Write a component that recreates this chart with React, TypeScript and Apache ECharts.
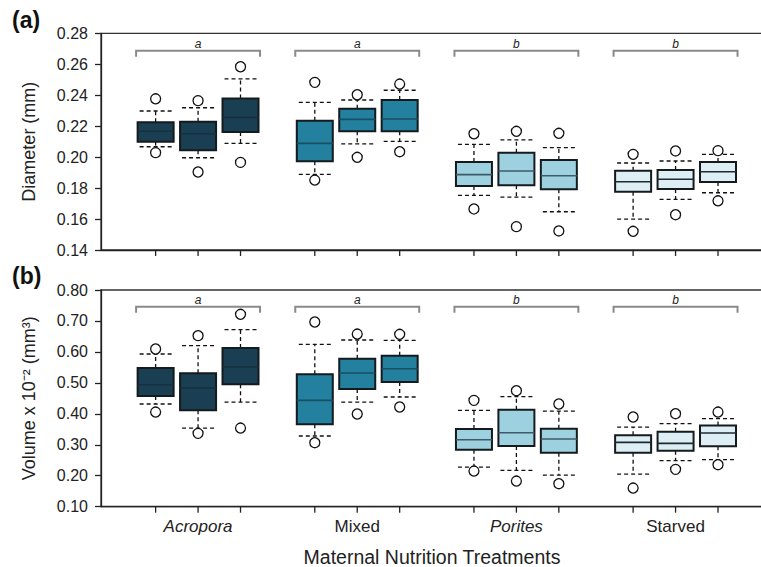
import React, { useEffect, useRef } from "react";
import * as echarts from "echarts";

const groups = ["Acropora", "Mixed", "Porites", "Starved"];
const groupItalic = [true, false, true, false];
const groupColors = ["#1b3f52", "#23809f", "#9dd1e0", "#ddeff5"];
const medianColors = ["#16303e", "#1a4f63", "#3e5a66", "#1d2a30"];
const sigLetters = ["a", "a", "b", "b"];
const boxesPerGroup = 3;

// Panel (a): Diameter (mm)
const diaLowOut = [0.2029, 0.1904, 0.1966, 0.1852, 0.1999, 0.2035, 0.1665, 0.1551, 0.1523, 0.1521, 0.1628, 0.1718];
const diaLowWhisk = [0.2067, 0.1996, 0.2089, 0.1889, 0.2085, 0.2102, 0.1753, 0.1742, 0.1647, 0.16, 0.1727, 0.177];
const diaQ1 = [0.21, 0.2044, 0.2162, 0.1973, 0.2167, 0.2167, 0.1814, 0.1818, 0.1792, 0.1777, 0.1794, 0.1839];
const diaMedian = [0.2167, 0.2151, 0.2257, 0.2089, 0.2244, 0.2246, 0.1887, 0.191, 0.188, 0.1841, 0.1857, 0.1906];
const diaQ3 = [0.2225, 0.2229, 0.2378, 0.2235, 0.2313, 0.2369, 0.1969, 0.2029, 0.1981, 0.1912, 0.1917, 0.1969];
const diaHighWhisk = [0.2298, 0.2319, 0.2505, 0.2354, 0.2369, 0.2432, 0.2083, 0.2111, 0.2061, 0.1962, 0.1975, 0.2018];
const diaHighOut = [0.2377, 0.2365, 0.2584, 0.2483, 0.2403, 0.2472, 0.2151, 0.2167, 0.2154, 0.2018, 0.204, 0.2042];
const diaBracketLevel = 0.2688;

// Panel (b): Volume x 10^-2 (mm^3)
const volLowOut = [0.4058, 0.3369, 0.3541, 0.3068, 0.3994, 0.422, 0.2152, 0.1829, 0.1743, 0.1603, 0.2206, 0.2357];
const volLowWhisk = [0.4317, 0.3541, 0.4381, 0.3283, 0.4381, 0.4543, 0.2281, 0.2173, 0.2023, 0.2055, 0.2486, 0.2518];
const volQ1 = [0.4575, 0.4112, 0.4952, 0.366, 0.4801, 0.5028, 0.2841, 0.296, 0.2744, 0.2744, 0.2809, 0.2949];
const volMedian = [0.4941, 0.4834, 0.5512, 0.4435, 0.5318, 0.5458, 0.3164, 0.339, 0.3186, 0.3078, 0.3046, 0.338];
const volQ3 = [0.548, 0.5308, 0.6126, 0.5275, 0.5782, 0.5878, 0.3509, 0.4134, 0.352, 0.3304, 0.3423, 0.3627];
const volHighWhisk = [0.5932, 0.6201, 0.6718, 0.6245, 0.6385, 0.6374, 0.4112, 0.4554, 0.409, 0.3573, 0.3681, 0.3843];
const volHighOut = [0.6094, 0.6525, 0.7214, 0.6966, 0.6578, 0.6568, 0.4435, 0.4747, 0.4317, 0.3897, 0.4004, 0.4058];
const volBracketLevel = 0.746;

const diaTicks = { min: 0.14, max: 0.28, interval: 0.02 };
const volTicks = { min: 0.1, max: 0.8, interval: 0.1 };

const FONT = "'Liberation Sans', Arial, Helvetica, sans-serif";
const GROUP_STEP = 3.75;
const X_MIN = -1.287;
const X_MAX = 14.31;

function buildBoxData(lo: number[], lw: number[], q1: number[], md: number[], q3: number[], hw: number[], ho: number[]) {
  const out: number[][] = [];
  for (let i = 0; i < md.length; i++) {
    const g = Math.floor(i / boxesPerGroup);
    const j = i % boxesPerGroup;
    out.push([g * GROUP_STEP + j, lo[i], lw[i], q1[i], md[i], q3[i], hw[i], ho[i], g, j]);
  }
  return out;
}

function makeBoxRender(yMin: number, showLabels: boolean) {
  return (params: any, api: any) => {
    const x = api.value(0);
    const g = api.value(8);
    const j = api.value(9);
    const P = (v: number) => api.coord([x, v]);
    const cx = P(api.value(4))[0];
    const yLo = P(api.value(1))[1];
    const yLw = P(api.value(2))[1];
    const yQ1 = P(api.value(3))[1];
    const yMd = P(api.value(4))[1];
    const yQ3 = P(api.value(5))[1];
    const yHw = P(api.value(6))[1];
    const yHo = P(api.value(7))[1];
    const yAxis = P(yMin)[1];
    const halfW = 18;
    const capHalf = 16;
    const dash = { stroke: "#111", lineWidth: 1.3, lineDash: [4, 3] };
    const children: any[] = [
      { type: "line", shape: { x1: cx, y1: yQ3, x2: cx, y2: yHw }, style: dash },
      { type: "line", shape: { x1: cx, y1: yQ1, x2: cx, y2: yLw }, style: dash },
      { type: "line", shape: { x1: cx - capHalf, y1: yHw, x2: cx + capHalf, y2: yHw }, style: dash },
      { type: "line", shape: { x1: cx - capHalf, y1: yLw, x2: cx + capHalf, y2: yLw }, style: dash },
      {
        type: "rect",
        shape: { x: cx - halfW, y: yQ3, width: halfW * 2, height: yQ1 - yQ3 },
        style: { fill: groupColors[g], stroke: "#151a1d", lineWidth: 2 },
      },
      { type: "line", shape: { x1: cx - halfW, y1: yMd, x2: cx + halfW, y2: yMd }, style: { stroke: medianColors[g], lineWidth: 1.6 } },
      { type: "circle", shape: { cx: cx, cy: yHo, r: 5 }, style: { fill: "#fff", stroke: "#111", lineWidth: 1.3 } },
      { type: "circle", shape: { cx: cx, cy: yLo, r: 5 }, style: { fill: "#fff", stroke: "#111", lineWidth: 1.3 } },
      { type: "line", shape: { x1: cx, y1: yAxis, x2: cx, y2: yAxis + 6 }, style: { stroke: "#222", lineWidth: 1.3 } },
    ];
    if (showLabels && j === 1) {
      children.push({
        type: "text",
        x: cx,
        y: yAxis + 20,
        style: {
          text: groups[g],
          fontSize: 17,
          fontFamily: FONT,
          fontStyle: groupItalic[g] ? "italic" : "normal",
          fill: "#222",
          align: "center",
          verticalAlign: "middle",
        },
      });
    }
    return { type: "group", children };
  };
}

function buildBracketData(level: number) {
  return groups.map((_, g) => [g * GROUP_STEP - 0.46, g * GROUP_STEP + 2.46, level, g]);
}

function bracketRender(params: any, api: any) {
  const p1 = api.coord([api.value(0), api.value(2)]);
  const p2 = api.coord([api.value(1), api.value(2)]);
  const g = api.value(3);
  return {
    type: "group",
    children: [
      {
        type: "polyline",
        shape: { points: [[p1[0], p1[1] + 6], [p1[0], p1[1]], [p2[0], p2[1]], [p2[0], p2[1] + 6]] },
        style: { stroke: "#8a8a8a", lineWidth: 2, fill: "none" },
      },
      {
        type: "text",
        x: (p1[0] + p2[0]) / 2,
        y: p1[1] - 7,
        style: {
          text: sigLetters[g],
          fontSize: 12,
          fontStyle: "italic",
          fontFamily: FONT,
          fill: "#222",
          align: "center",
          verticalAlign: "middle",
        },
      },
    ],
  };
}

export default function App() {
  const ref = useRef<HTMLDivElement>(null);
  useEffect(() => {
    if (!ref.current) return;
    const chart = echarts.init(ref.current, undefined, { renderer: "svg" });
    const axisLine = { show: true, onZero: false, lineStyle: { color: "#222", width: 1.3 } };
    const xBase = {
      type: "value" as const,
      min: X_MIN,
      max: X_MAX,
      axisLine,
      axisTick: { show: false },
      axisLabel: { show: false },
      splitLine: { show: false },
    };
    const yBase = (t: any, name: string, gridIndex: number) => ({
      type: "value" as const,
      gridIndex,
      min: t.min,
      max: t.max,
      interval: t.interval,
      axisLine,
      axisTick: { show: true, length: 6, lineStyle: { color: "#222", width: 1.3 } },
      axisLabel: {
        margin: 13,
        fontSize: 16,
        fontFamily: FONT,
        color: "#222",
        formatter: (v: number) => v.toFixed(2),
      },
      splitLine: { show: false },
      name,
      nameLocation: "middle" as const,
      nameGap: 63,
      nameTextStyle: { fontSize: 18, fontFamily: FONT, color: "#222" },
    });
    chart.setOption({
      animation: false,
      backgroundColor: "#fff",
      grid: [
        { left: 101, right: -2, top: 33.3, height: 216.7, show: true, borderColor: "#333", borderWidth: 1.3, outerBoundsMode: "none" },
        { left: 101, right: -2, top: 290, height: 216.7, show: true, borderColor: "#333", borderWidth: 1.3, outerBoundsMode: "none" },
      ],
      xAxis: [
        { ...xBase, gridIndex: 0 },
        {
          ...xBase,
          gridIndex: 1,
          name: "Maternal Nutrition Treatments",
          nameLocation: "middle",
          nameGap: 40,
          nameTextStyle: { fontSize: 19.5, fontFamily: FONT, color: "#222" },
        },
      ],
      yAxis: [yBase(diaTicks, "Diameter (mm)", 0), yBase(volTicks, "Volume x 10⁻² (mm³)", 1)],
      graphic: [
        { type: "text", left: 12, top: 8, style: { text: "(a)", font: `bold 23px ${FONT}`, fill: "#111" } },
        { type: "text", left: 12, top: 264, style: { text: "(b)", font: `bold 23px ${FONT}`, fill: "#111" } },
      ],
      series: [
        {
          type: "custom",
          xAxisIndex: 0,
          yAxisIndex: 0,
          clip: false,
          renderItem: makeBoxRender(diaTicks.min, false),
          data: buildBoxData(diaLowOut, diaLowWhisk, diaQ1, diaMedian, diaQ3, diaHighWhisk, diaHighOut),
        },
        {
          type: "custom",
          xAxisIndex: 1,
          yAxisIndex: 1,
          clip: false,
          renderItem: makeBoxRender(volTicks.min, true),
          data: buildBoxData(volLowOut, volLowWhisk, volQ1, volMedian, volQ3, volHighWhisk, volHighOut),
        },
        {
          type: "custom",
          xAxisIndex: 0,
          yAxisIndex: 0,
          clip: false,
          renderItem: bracketRender,
          data: buildBracketData(diaBracketLevel),
        },
        {
          type: "custom",
          xAxisIndex: 1,
          yAxisIndex: 1,
          clip: false,
          renderItem: bracketRender,
          data: buildBracketData(volBracketLevel),
        },
      ],
    });
    return () => chart.dispose();
  }, []);
  return <div ref={ref} style={{ width: 761, height: 567, position: "absolute", left: 0, top: 0 }} />;
}
